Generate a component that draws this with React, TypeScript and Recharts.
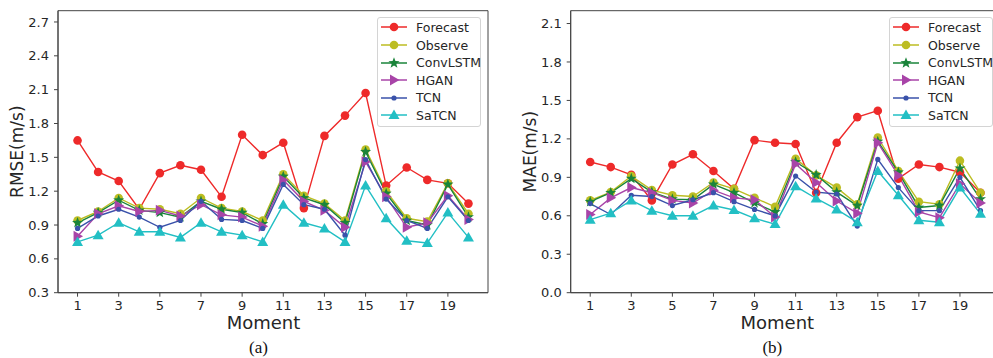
import { LineChart, Line, XAxis, YAxis, Legend, Label, ReferenceArea } from 'recharts';

const moments = [1, 2, 3, 4, 5, 6, 7, 8, 9, 10, 11, 12, 13, 14, 15, 16, 17, 18, 19, 20];
const xTicks = [1, 3, 5, 7, 9, 11, 13, 15, 17, 19];
const rmseTicks = [0.3, 0.6, 0.9, 1.2, 1.5, 1.8, 2.1, 2.4, 2.7];
const maeTicks = [0.0, 0.3, 0.6, 0.9, 1.2, 1.5, 1.8, 2.1];

// (a) RMSE
const rmseForecast = [1.65, 1.37, 1.29, 1.04, 1.36, 1.43, 1.39, 1.15, 1.7, 1.52, 1.63, 1.05, 1.69, 1.87, 2.07, 1.25, 1.41, 1.3, 1.27, 1.09];
const rmseObserve = [0.94, 1.02, 1.14, 1.05, 1.04, 1.0, 1.14, 1.05, 1.02, 0.94, 1.35, 1.16, 1.09, 0.94, 1.57, 1.2, 0.96, 0.93, 1.27, 1.0];
const rmseConvLSTM = [0.92, 1.01, 1.12, 1.03, 1.01, 0.97, 1.11, 1.04, 1.01, 0.91, 1.33, 1.14, 1.08, 0.92, 1.55, 1.18, 0.94, 0.9, 1.26, 0.97];
const rmseHGAN = [0.8, 1.0, 1.07, 1.02, 1.03, 0.98, 1.08, 0.99, 0.97, 0.89, 1.3, 1.11, 1.03, 0.88, 1.46, 1.15, 0.88, 0.92, 1.16, 0.95];
const rmseTCN = [0.87, 0.98, 1.04, 0.97, 0.88, 0.94, 1.11, 0.95, 0.94, 0.87, 1.26, 1.08, 1.04, 0.81, 1.48, 1.13, 0.94, 0.87, 1.15, 0.94];
const rmseSaTCN = [0.75, 0.81, 0.92, 0.84, 0.84, 0.79, 0.92, 0.84, 0.81, 0.75, 1.08, 0.92, 0.87, 0.75, 1.25, 0.96, 0.76, 0.74, 1.01, 0.79];

// (b) MAE
const maeForecast = [1.02, 0.98, 0.92, 0.72, 1.0, 1.08, 0.95, 0.81, 1.19, 1.17, 1.16, 0.78, 1.17, 1.37, 1.42, 0.89, 1.0, 0.98, 0.94, 0.78];
const maeObserve = [0.72, 0.785, 0.91, 0.8, 0.76, 0.75, 0.86, 0.81, 0.74, 0.67, 1.045, 0.915, 0.82, 0.69, 1.21, 0.95, 0.71, 0.69, 1.03, 0.78];
const maeConvLSTM = [0.71, 0.78, 0.89, 0.785, 0.73, 0.725, 0.845, 0.78, 0.7, 0.63, 1.02, 0.92, 0.785, 0.68, 1.18, 0.94, 0.665, 0.68, 0.97, 0.73];
const maeHGAN = [0.61, 0.74, 0.82, 0.78, 0.72, 0.7, 0.8, 0.74, 0.725, 0.59, 1.005, 0.86, 0.715, 0.62, 1.17, 0.915, 0.63, 0.585, 0.85, 0.7];
const maeTCN = [0.695, 0.61, 0.76, 0.75, 0.68, 0.725, 0.78, 0.71, 0.65, 0.6, 0.91, 0.785, 0.77, 0.52, 1.04, 0.82, 0.64, 0.64, 0.9, 0.64];
const maeSaTCN = [0.57, 0.62, 0.72, 0.64, 0.6, 0.6, 0.68, 0.645, 0.58, 0.535, 0.83, 0.735, 0.65, 0.55, 0.95, 0.76, 0.565, 0.55, 0.82, 0.615];

type Shape = 'circle' | 'star' | 'tri-right' | 'tri-up' | 'dot';

const series: { key: string; name: string; color: string; shape: Shape }[] = [
  { key: 'forecast', name: 'Forecast', color: '#ee2a2a', shape: 'circle' },
  { key: 'observe', name: 'Observe', color: '#bcbd22', shape: 'circle' },
  { key: 'convlstm', name: 'ConvLSTM', color: '#1a843a', shape: 'star' },
  { key: 'hgan', name: 'HGAN', color: '#a844a8', shape: 'tri-right' },
  { key: 'tcn', name: 'TCN', color: '#3a52aa', shape: 'dot' },
  { key: 'satcn', name: 'SaTCN', color: '#22bfc4', shape: 'tri-up' },
];

const buildRows = (cols: number[][]) =>
  moments.map((m, i) => ({
    moment: m,
    forecast: cols[0][i],
    observe: cols[1][i],
    convlstm: cols[2][i],
    hgan: cols[3][i],
    tcn: cols[4][i],
    satcn: cols[5][i],
  }));

const rmseRows = buildRows([rmseForecast, rmseObserve, rmseConvLSTM, rmseHGAN, rmseTCN, rmseSaTCN]);
const maeRows = buildRows([maeForecast, maeObserve, maeConvLSTM, maeHGAN, maeTCN, maeSaTCN]);

function starPath(cx: number, cy: number, ro: number, ri: number) {
  let d = '';
  for (let k = 0; k < 10; k++) {
    const r = k % 2 === 0 ? ro : ri;
    const a = -Math.PI / 2 + (k * Math.PI) / 5;
    d += (k === 0 ? 'M' : 'L') + (cx + r * Math.cos(a)).toFixed(2) + ',' + (cy + r * Math.sin(a)).toFixed(2);
  }
  return d + 'Z';
}

function Marker({ shape, color, cx, cy }: { shape: Shape; color: string; cx: number; cy: number }) {
  switch (shape) {
    case 'circle':
      return <circle cx={cx} cy={cy} r={4.3} fill={color} />;
    case 'dot':
      return <circle cx={cx} cy={cy} r={2.6} fill={color} />;
    case 'star':
      return <path d={starPath(cx, cy, 5.8, 2.4)} fill={color} />;
    case 'tri-right':
      return <path d={`M${cx + 5.5},${cy} L${cx - 4},${cy - 5.5} L${cx - 4},${cy + 5.5} Z`} fill={color} />;
    case 'tri-up':
      return <path d={`M${cx},${cy - 5.5} L${cx + 5.5},${cy + 4} L${cx - 5.5},${cy + 4} Z`} fill={color} />;
  }
  return null;
}

const makeDot = (shape: Shape, color: string) => (props: any) => {
  const { cx, cy, index } = props;
  if (cx == null || cy == null) return <g key={index} />;
  return <Marker key={index} shape={shape} color={color} cx={cx} cy={cy} />;
};

function LegendBox() {
  return (
    <div
      style={{
        width: 102,
        padding: '1px 0 2px 0',
        border: '1px solid #d4d4d4',
        borderRadius: 3,
        background: 'rgba(255,255,255,0.85)',
        fontFamily: 'DejaVu Sans',
        fontSize: 12.5,
        color: '#262626',
      }}
    >
      {series.map((s) => (
        <div key={s.key} style={{ height: 17.6, display: 'flex', alignItems: 'center' }}>
          <svg width={26} height={14} style={{ marginLeft: 3, marginRight: 9, flex: 'none' }}>
            <line x1={0} y1={7} x2={26} y2={7} stroke={s.color} strokeWidth={1.5} />
            <Marker shape={s.shape} color={s.color} cx={13} cy={7} />
          </svg>
          <span style={{ whiteSpace: 'nowrap' }}>{s.name}</span>
        </div>
      ))}
    </div>
  );
}

const axisColor = '#444';
const tickStyle = { fontSize: 13, fill: '#262626' };
const xDomain: [number, number] = [0.05, 20.95];

function Panel({
  rows,
  domain,
  ticks,
  yLabel,
  yLabelOffset,
  yAxisWidth,
  caption,
  dx,
}: {
  rows: any[];
  domain: [number, number];
  ticks: number[];
  yLabel: string;
  yLabelOffset: number;
  yAxisWidth: number;
  caption: string;
  dx: number;
}) {
  return (
    <LineChart width={500} height={358} data={rows} margin={{ top: 10.7, right: 12, bottom: 0, left: 0 }}>
      <XAxis
        dataKey="moment"
        type="number"
        domain={xDomain}
        ticks={xTicks}
        allowDataOverflow
        height={65.3}
        tick={tickStyle}
        tickSize={4}
        tickMargin={4}
        stroke={axisColor}
      >
        <Label value="Moment" position="insideBottom" offset={28.7} dx={dx} style={{ fontSize: 18, fill: '#262626' }} />
        <Label
          value={caption}
          position="insideBottom"
          offset={5}
          dx={dx - 5}
          style={{ fontSize: 17, fill: '#111', fontFamily: 'Liberation Serif, serif' }}
        />
      </XAxis>
      <YAxis
        type="number"
        domain={domain}
        ticks={ticks}
        allowDataOverflow
        width={yAxisWidth}
        tick={tickStyle}
        tickSize={4}
        tickMargin={5}
        tickFormatter={(v: number) => v.toFixed(1)}
        stroke={axisColor}
      >
        <Label
          value={yLabel}
          angle={-90}
          position="insideLeft"
          offset={yLabelOffset}
          style={{ fontSize: 17, fill: '#262626', textAnchor: 'middle' }}
        />
      </YAxis>
      {/* axes frame */}
      <ReferenceArea
        x1={xDomain[0]}
        x2={xDomain[1]}
        y1={domain[0]}
        y2={domain[1]}
        fill="none"
        fillOpacity={0}
        stroke={axisColor}
        strokeWidth={1}
        strokeOpacity={1}
        ifOverflow="visible"
      />
      <Legend
        layout="horizontal"
        verticalAlign="middle"
        align="center"
        content={() => <LegendBox />}
        wrapperStyle={{ position: 'absolute', left: 377, top: 16.7, width: 104 }}
      />
      {series.map((s) => (
        <Line
          key={s.key}
          type="linear"
          dataKey={s.key}
          name={s.name}
          stroke={s.color}
          strokeWidth={1.4}
          dot={makeDot(s.shape, s.color)}
          activeDot={false}
          isAnimationActive={false}
        />
      ))}
    </LineChart>
  );
}

export default function App() {
  return (
    <div
      style={{
        position: 'absolute',
        left: 0,
        top: 0,
        width: 993,
        height: 358,
        overflow: 'hidden',
        background: '#fff',
        fontFamily: 'DejaVu Sans',
      }}
    >
      <div style={{ position: 'absolute', left: 0, top: 0 }}>
        <Panel
          rows={rmseRows}
          domain={[0.3, 2.8]}
          ticks={rmseTicks}
          yLabel="RMSE(m/s)"
          yLabelOffset={16.5}
          yAxisWidth={58}
          caption="(a)"
          dx={-9.5}
        />
      </div>
      <div style={{ position: 'absolute', left: 512, top: 0 }}>
        <Panel
          rows={maeRows}
          domain={[0, 2.2]}
          ticks={maeTicks}
          yLabel="MAE(m/s)"
          yLabelOffset={18}
          yAxisWidth={58.7}
          caption="(b)"
          dx={-8}
        />
      </div>
    </div>
  );
}
